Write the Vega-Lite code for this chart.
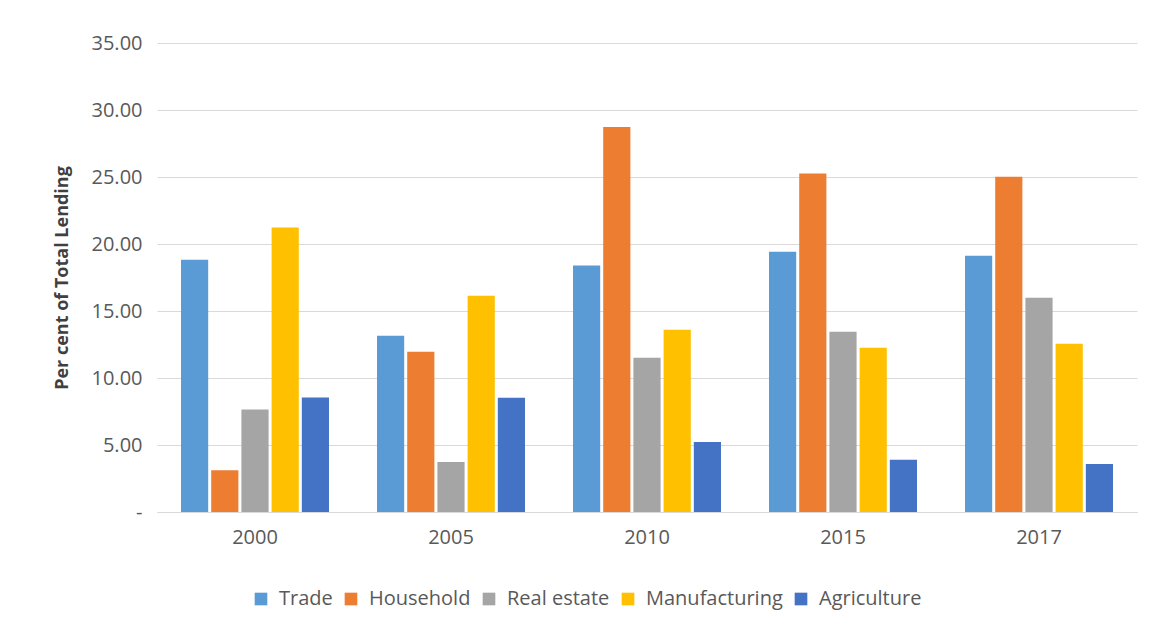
{
  "$schema": "https://vega.github.io/schema/vega-lite/v6.json",
  "width": 980,
  "height": 469,
  "autosize": {"type": "none"},
  "padding": {"left": 157, "top": 43, "right": 16, "bottom": 118},
  "background": "white",
  "config": {
    "font": "Open Sans",
    "view": {"stroke": null},
    "axis": {"labelFont": "Open Sans", "labelColor": "#595959"}
  },
  "data": {
    "values": [
      {"year": "2000", "sector": "Trade", "value": 18.83},
      {"year": "2000", "sector": "Household", "value": 3.12},
      {"year": "2000", "sector": "Real estate", "value": 7.65},
      {"year": "2000", "sector": "Manufacturing", "value": 21.23},
      {"year": "2000", "sector": "Agriculture", "value": 8.55},
      {"year": "2005", "sector": "Trade", "value": 13.15},
      {"year": "2005", "sector": "Household", "value": 11.96},
      {"year": "2005", "sector": "Real estate", "value": 3.74},
      {"year": "2005", "sector": "Manufacturing", "value": 16.14},
      {"year": "2005", "sector": "Agriculture", "value": 8.52},
      {"year": "2010", "sector": "Trade", "value": 18.39},
      {"year": "2010", "sector": "Household", "value": 28.73},
      {"year": "2010", "sector": "Real estate", "value": 11.51},
      {"year": "2010", "sector": "Manufacturing", "value": 13.6},
      {"year": "2010", "sector": "Agriculture", "value": 5.23},
      {"year": "2015", "sector": "Trade", "value": 19.43},
      {"year": "2015", "sector": "Household", "value": 25.26},
      {"year": "2015", "sector": "Real estate", "value": 13.45},
      {"year": "2015", "sector": "Manufacturing", "value": 12.26},
      {"year": "2015", "sector": "Agriculture", "value": 3.89},
      {"year": "2017", "sector": "Trade", "value": 19.13},
      {"year": "2017", "sector": "Household", "value": 25.01},
      {"year": "2017", "sector": "Real estate", "value": 15.99},
      {"year": "2017", "sector": "Manufacturing", "value": 12.56},
      {"year": "2017", "sector": "Agriculture", "value": 3.59}
    ]
  },
  "mark": {"type": "bar"},
  "encoding": {
    "x": {
      "field": "year",
      "type": "nominal",
      "scale": {"paddingInner": 0.245, "paddingOuter": 0.1225},
      "axis": {
        "title": null,
        "labelAngle": 0,
        "ticks": false,
        "labelPadding": 15,
        "domainColor": "#D9D9D9",
        "labelFontSize": 20
      }
    },
    "xOffset": {
      "field": "sector",
      "type": "nominal",
      "sort": ["Trade", "Household", "Real estate", "Manufacturing", "Agriculture"],
      "scale": {"paddingInner": 0.1}
    },
    "y": {
      "field": "value",
      "type": "quantitative",
      "scale": {"domain": [0, 35]},
      "axis": {
        "title": "Per cent of Total Lending",
        "titleFontSize": 18,
        "titleFontWeight": "bold",
        "titleColor": "#404040",
        "titlePadding": 20,
        "values": [0, 5, 10, 15, 20, 25, 30, 35],
        "labelExpr": "datum.value == 0 ? '-' : format(datum.value, '.2f')",
        "labelFontSize": 20,
        "labelPadding": 15,
        "ticks": false,
        "domain": false,
        "gridColor": "#D9D9D9"
      }
    },
    "color": {
      "field": "sector",
      "type": "nominal",
      "sort": ["Trade", "Household", "Real estate", "Manufacturing", "Agriculture"],
      "scale": {
        "domain": ["Trade", "Household", "Real estate", "Manufacturing", "Agriculture"],
        "range": ["#5B9BD5", "#ED7D31", "#A5A5A5", "#FFC000", "#4472C4"]
      },
      "legend": {
        "title": null,
        "orient": "none",
        "direction": "horizontal",
        "legendX": 94,
        "legendY": 546,
        "symbolType": "square",
        "symbolSize": 160,
        "symbolStrokeWidth": 0,
        "labelFontSize": 20,
        "labelColor": "#595959",
        "labelOffset": 8,
        "columnPadding": 8,
        "labelLimit": 300
      }
    }
  }
}
